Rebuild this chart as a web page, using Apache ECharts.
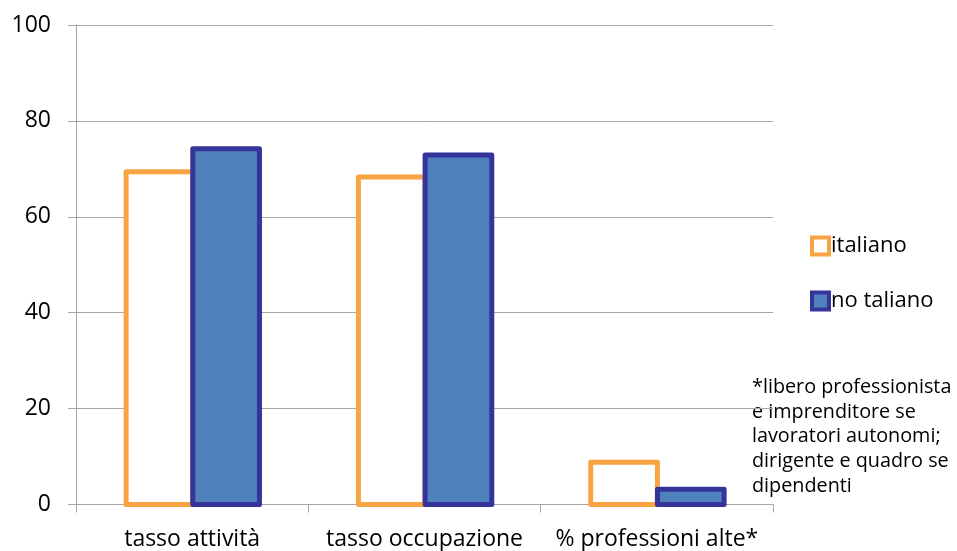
<!DOCTYPE html>
<html>
<head>
<meta charset="utf-8">
<script src="https://cdn.jsdelivr.net/npm/echarts@6/dist/echarts.min.js"></script>
<style>html,body{margin:0;padding:0;background:#fff}#c{width:957px;height:551px}</style>
</head>
<body>
<div id="c"></div>
<script>
var categories = ['tasso attività', 'tasso occupazione', '% professioni alte*'];
var italiano = [69.4, 68.3, 8.8];
var noTaliano = [74.2, 72.9, 3.2];
var yTicks = [0, 20, 40, 60, 80, 100];
var footnote = '*libero professionista\ne imprenditore se\nlavoratori autonomi;\ndirigente e quadro se\ndipendenti';

var FONT = '"Open Sans", sans-serif';
var ORANGE = '#F9A443', NAVY = '#35349A', BLUE = '#4F81BD';

function makeBar(side, fill, stroke) {
  return function (params, api) {
    var cat = api.value(0), val = api.value(1);
    var base = api.coord([cat, 0]);
    var top = api.coord([cat, val]);
    var band = api.size([1, 0])[0];
    var w = band * 0.287;
    var cx = base[0] + 0.6;
    var x = side < 0 ? cx - w : cx;
    return {
      type: 'rect',
      shape: {x: x, y: top[1], width: w, height: base[1] - top[1]},
      style: {fill: fill, stroke: stroke, lineWidth: 5, lineJoin: 'round'}
    };
  };
}
function pairs(arr) { return arr.map(function (v, i) { return [i, v]; }); }

var chart = echarts.init(document.getElementById('c'), null, {renderer: 'canvas'});
chart.setOption({
  animation: false,
  backgroundColor: '#ffffff',
  textStyle: {fontFamily: FONT},
  grid: {left: 76, right: 184, top: 25, bottom: 46.5},
  legend: {
    orient: 'vertical', left: 805, top: 230, itemGap: 33,
    itemWidth: 17, itemHeight: 17,
    textStyle: {fontSize: 22, color: '#000', fontFamily: FONT, padding: [0, 0, 0, -3]},
    data: [
      {name: 'italiano', icon: 'rect', itemStyle: {color: '#ffffff', borderColor: ORANGE, borderWidth: 4}},
      {name: 'no taliano', icon: 'rect', itemStyle: {color: BLUE, borderColor: NAVY, borderWidth: 4}}
    ]
  },
  xAxis: {
    type: 'category', data: categories,
    axisLine: {lineStyle: {color: '#A6A6A6', width: 1}},
    axisTick: {show: true, length: 8, lineStyle: {color: '#A6A6A6'}},
    axisLabel: {fontSize: 23, color: '#000', margin: 23, fontFamily: FONT, interval: 0, hideOverlap: false}
  },
  yAxis: {
    type: 'value', min: yTicks[0], max: yTicks[yTicks.length - 1], interval: 20,
    axisLine: {show: true, lineStyle: {color: '#A6A6A6', width: 1}},
    axisTick: {show: true, length: 8, lineStyle: {color: '#A6A6A6'}},
    axisLabel: {fontSize: 23, color: '#000', margin: 25, fontFamily: FONT},
    splitLine: {lineStyle: {color: '#A6A6A6', width: 1}}
  },
  graphic: [{
    type: 'text', left: 752, top: 375,
    style: {text: footnote, fontSize: 19.8, lineHeight: 24.7, fill: '#000', fontFamily: FONT}
  }],
  series: [
    {name: 'italiano', type: 'custom', data: pairs(italiano), clip: false,
     encode: {x: 0, y: 1}, itemStyle: {color: ORANGE},
     renderItem: makeBar(-1, '#ffffff', ORANGE)},
    {name: 'no taliano', type: 'custom', data: pairs(noTaliano), clip: false,
     encode: {x: 0, y: 1}, itemStyle: {color: BLUE},
     renderItem: makeBar(1, BLUE, NAVY)}
  ]
});
</script>
</body>
</html>
